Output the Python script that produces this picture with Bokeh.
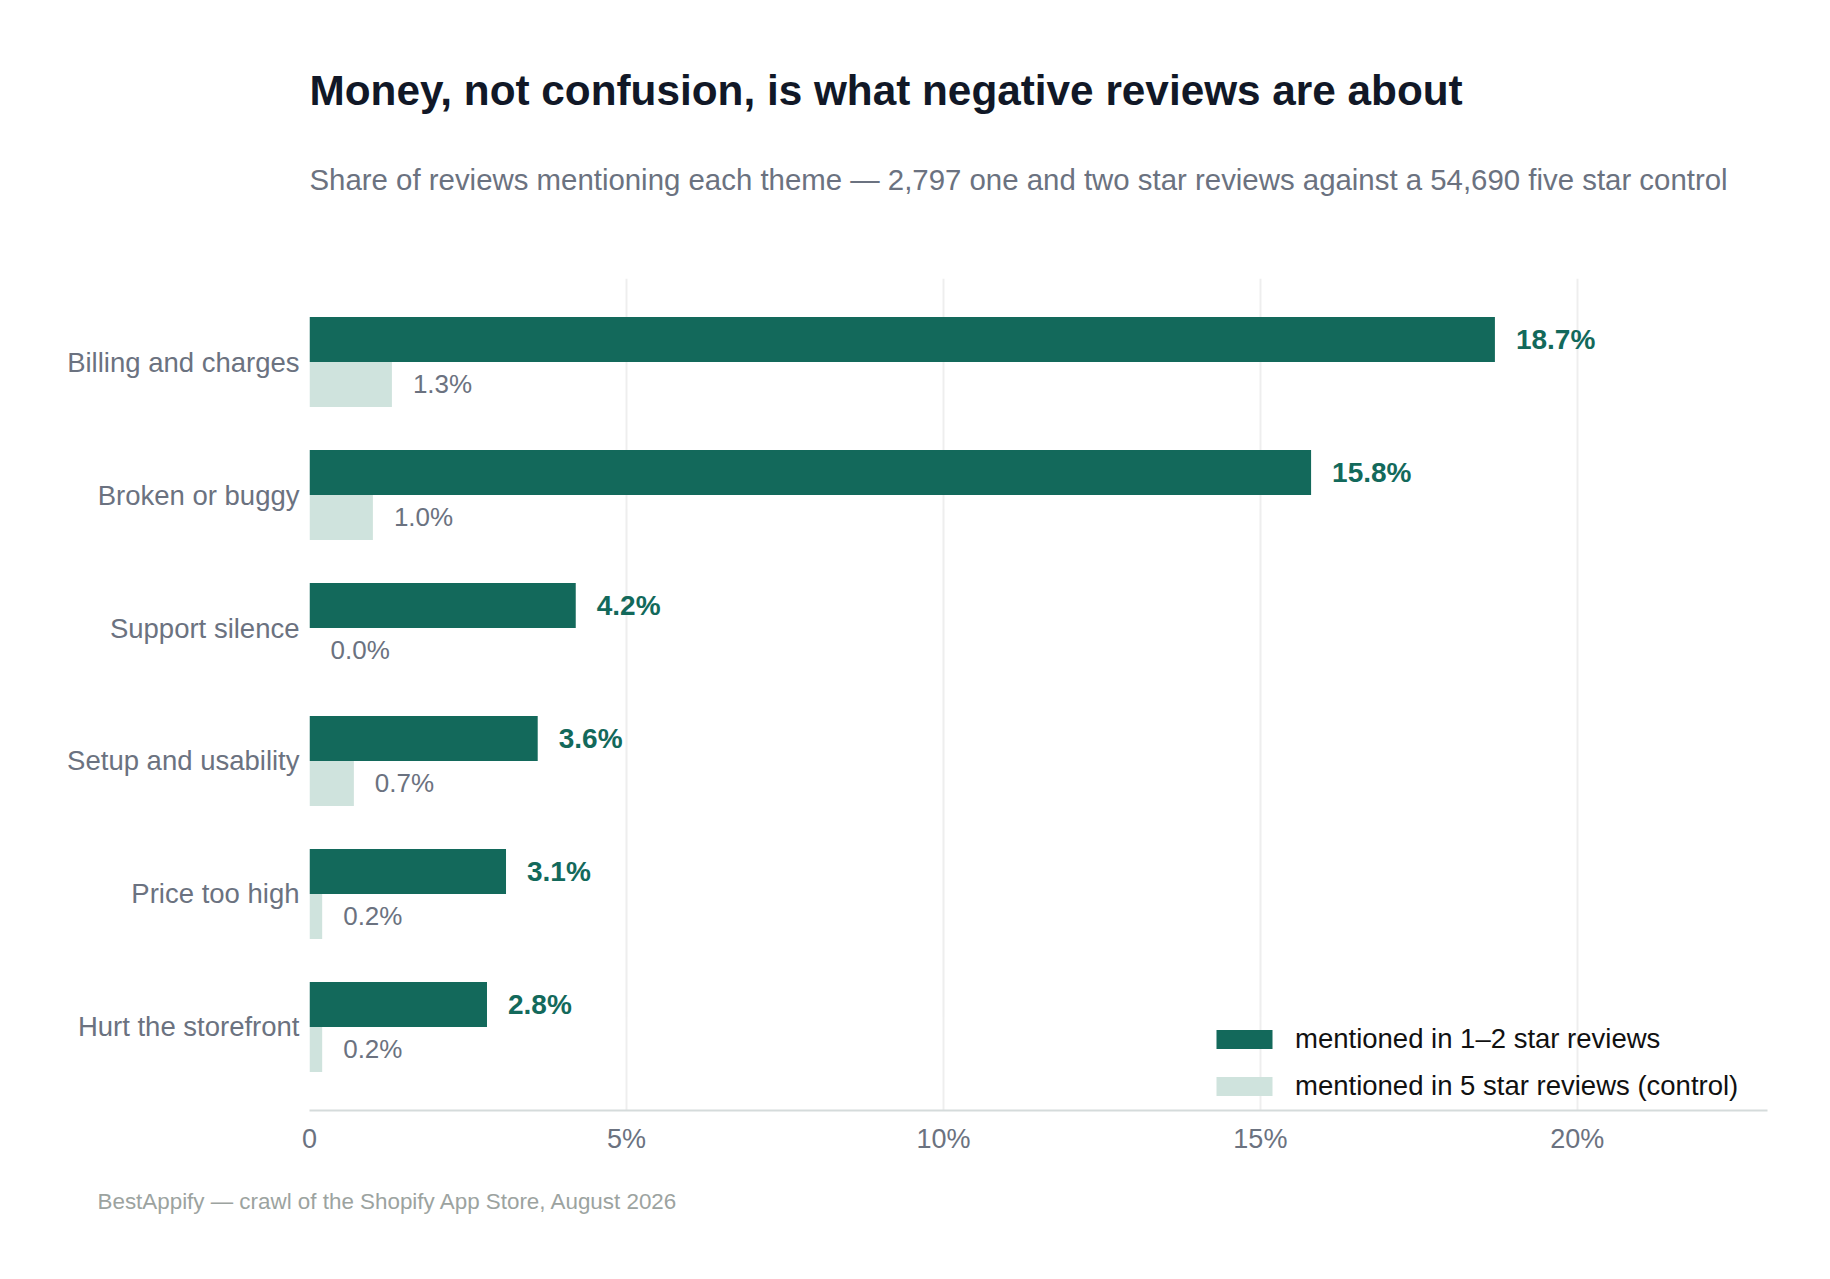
from bokeh.plotting import figure
from bokeh.layouts import column
from bokeh.models import (ColumnDataSource, FactorRange, FixedTicker, Label, Legend, LegendItem,
                          Range1d, Title)
from bokeh.transform import dodge
from bokeh.core.properties import value
from bokeh.embed import file_html
from bokeh.resources import INLINE

# ---- data ----
themes = ["Billing and charges", "Broken or buggy", "Support silence",
          "Setup and usability", "Price too high", "Hurt the storefront"]
negative_pct = [18.7, 15.8, 4.2, 3.6, 3.1, 2.8]
control_pct = [1.3, 1.0, 0.0, 0.7, 0.2, 0.2]
x_ticks = [0, 5, 10, 15, 20]
x_tick_labels = ["0", "5%", "10%", "15%", "20%"]
series_names = ["mentioned in 1\u20132 star reviews", "mentioned in 5 star reviews (control)"]

title_text = "Money, not confusion, is what negative reviews are about"
subtitle_text = ("Share of reviews mentioning each theme \u2014 2,797 one and two star reviews "
                 "against a 54,690 five star control")
footer_text = "BestAppify \u2014 crawl of the Shopify App Store, August 2026"

DARK = "#13695b"
LIGHT = "#cfe3dd"
GRAY = "#6b7280"
FONT = "Liberation Sans"
W = 1810
BL, BR = 309, 43
FRAME_W = W - BL - BR
HEAD_H = 278
MAIN_H = 977

# ---- header (title + subtitle); its frame is aligned with the chart frame ----
head = figure(width=W, height=HEAD_H, x_range=Range1d(0, FRAME_W), y_range=Range1d(HEAD_H, 0),
              x_axis_type=None, y_axis_type=None, output_backend="svg", toolbar_location=None,
              min_border=0)
head.outline_line_color = None
head.grid.visible = False
head.background_fill_color = "white"
head.border_fill_color = "white"
head.add_layout(Label(x=0, y=90, text=title_text, text_font=FONT, text_font_style="bold",
                      text_font_size="42.3px", text_color="#111827", text_baseline="alphabetic"))
head.add_layout(Label(x=0, y=178.5, text=subtitle_text, text_font=FONT,
                      text_font_size="29.4px", text_color=GRAY, text_baseline="alphabetic"))

# ---- main chart ----
src = ColumnDataSource(dict(
    theme=themes,
    neg=negative_pct,
    ctl=control_pct,
    neg_lbl=[f"{v:.1f}%" for v in negative_pct],
    ctl_lbl=[f"{v:.1f}%" for v in control_pct],
))

y_range = FactorRange(factors=list(reversed(themes)), range_padding=0.128,
                      range_padding_units="absolute")

p = figure(width=W, height=MAIN_H, y_range=y_range, x_range=Range1d(0, 23),
           output_backend="svg", toolbar_location=None,
           min_border_left=BL, min_border_right=BR, min_border_top=0, min_border_bottom=145)
p.outline_line_color = None
p.background_fill_color = "white"
p.border_fill_color = "white"

OFF = 0.169
H = 0.338
r_neg = p.hbar(y=dodge("theme", OFF, range=p.y_range), right="neg", left=0, height=H,
               source=src, fill_color=DARK, line_color=None)
r_ctl = p.hbar(y=dodge("theme", -OFF, range=p.y_range), right="ctl", left=0, height=H,
               source=src, fill_color=LIGHT, line_color=None)

p.text(x="neg", y=dodge("theme", OFF, range=p.y_range), text="neg_lbl", source=src,
       x_offset=21, text_baseline="middle", text_align="left",
       text_font=value(FONT), text_font_style="bold", text_font_size="28px", text_color=DARK)
p.text(x="ctl", y=dodge("theme", -OFF, range=p.y_range), text="ctl_lbl", source=src,
       x_offset=21, text_baseline="middle", text_align="left",
       text_font=value(FONT), text_font_size="26px", text_color=GRAY)

# axes
xa = p.xaxis[0]
xa.ticker = FixedTicker(ticks=x_ticks)
xa.major_label_overrides = {t: l for t, l in zip(x_ticks, x_tick_labels)}
xa.axis_line_color = "#d5dbdb"
xa.axis_line_width = 2
xa.major_tick_line_color = None
xa.minor_tick_line_color = None
xa.major_label_text_font = FONT
xa.major_label_text_font_size = "27px"
xa.major_label_text_color = GRAY
xa.major_label_standoff = 7

ya = p.yaxis[0]
ya.axis_line_color = None
ya.major_tick_line_color = None
ya.minor_tick_line_color = None
ya.major_label_text_font = FONT
ya.major_label_text_font_size = "27.5px"
ya.major_label_text_color = GRAY
ya.major_label_standoff = 4

p.xgrid.grid_line_color = "#eeeeee"
p.xgrid.grid_line_width = 2
p.ygrid.grid_line_color = None

legend = Legend(items=[LegendItem(label=series_names[0], renderers=[r_neg]),
                       LegendItem(label=series_names[1], renderers=[r_ctl])],
                location=(900, 8), orientation="vertical",
                glyph_width=70, glyph_height=24, label_height=32, spacing=15,
                label_standoff=16, padding=0, margin=0,
                border_line_color=None, background_fill_alpha=0,
                label_text_font=FONT, label_text_font_size="27.5px", label_text_color="#111111")
p.add_layout(legend)

p.add_layout(Title(text=footer_text, align="left", offset=-212, text_font=FONT,
                   text_font_size="22.4px", text_font_style="normal", text_color="#9ca3a0",
                   standoff=60), "below")

layout = column(head, p, spacing=0)
open("out.html", "w").write(file_html(layout, INLINE))
